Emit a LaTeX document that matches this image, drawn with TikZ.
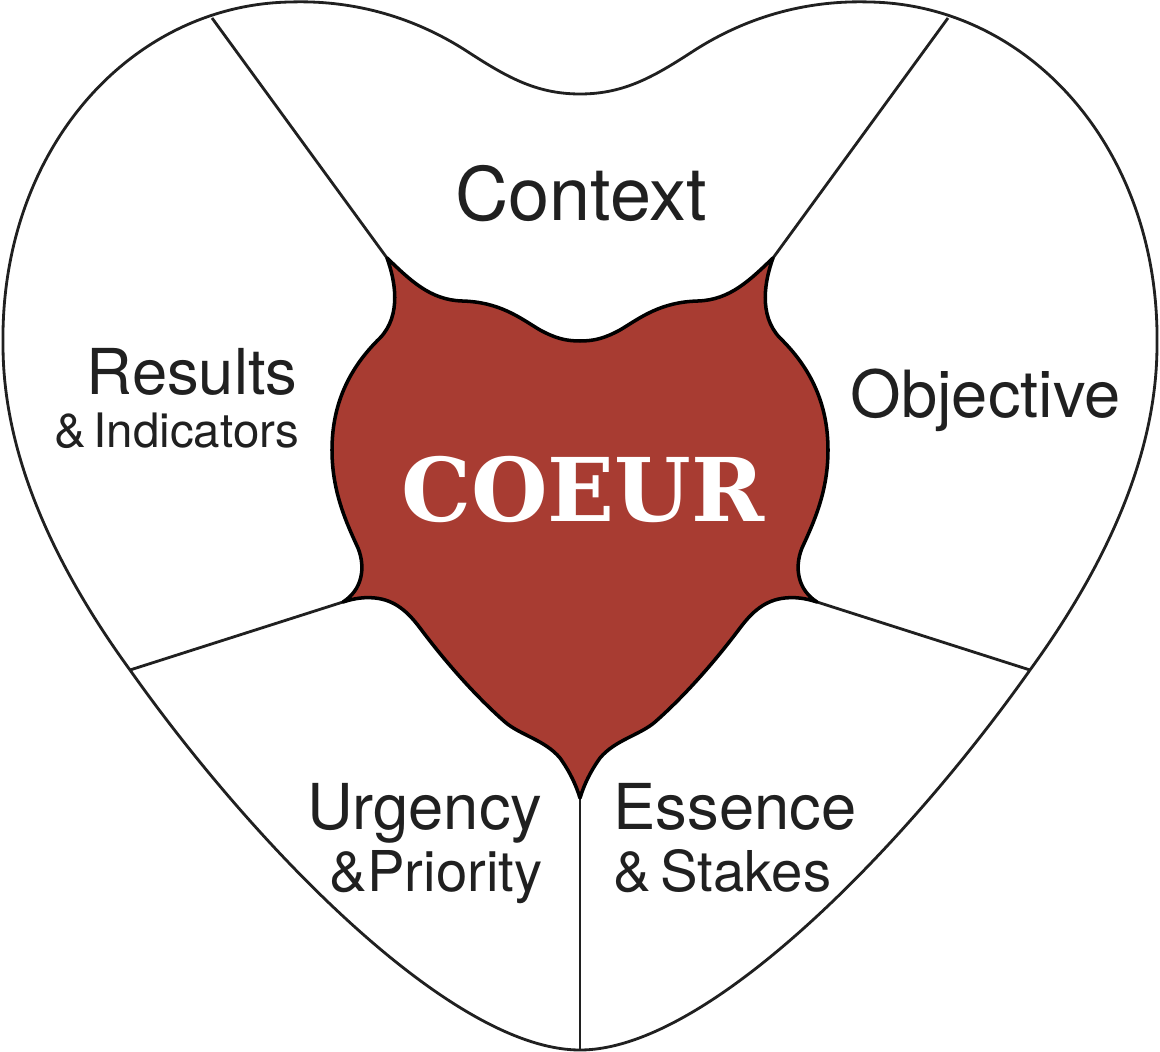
\documentclass[tikz,border=0pt]{standalone}
\usepackage{fontspec}
\setmainfont{TeX Gyre Heros}
\newfontfamily\coeurfont{DejaVu Serif}
\definecolor{coeurred}{HTML}{A83C32}
\definecolor{inkgray}{HTML}{202020}

\begin{document}
\begin{tikzpicture}[x=0.01cm,y=-0.01cm,line join=round,
    outline/.style={draw=inkgray,line width=0.8pt},
    inner/.style={draw=black,line width=1pt,fill=coeurred},
    word/.style={text=inkgray,inner sep=0pt,font=\fontsize{18}{21}\selectfont},
    subword/.style={text=inkgray,inner sep=0pt,font=\fontsize{16}{19}\selectfont}]
    \useasboundingbox (0,0) rectangle (1160,1052);
    % outer heart
    \draw[outline,fill=white] (580,94) .. controls (535,94) and (505,76) .. (465,50)
        .. controls (410,15) and (350,0) .. (290,2)
        .. controls (130,5) and (0,150) .. (3,345)
        .. controls (3,450) and (50,560) .. (130,670)
        .. controls (250,840) and (450,1050) .. (580,1050)
        .. controls (710,1050) and (910,840) .. (1030,670)
        .. controls (1110,560) and (1157,450) .. (1157,345)
        .. controls (1160,150) and (1030,5) .. (870,2)
        .. controls (810,0) and (750,15) .. (695,50)
        .. controls (655,76) and (625,94) .. (580,94) -- cycle;
    % end points of the dividers
    \coordinate (tlo) at (212,18);
    \coordinate (tli) at (387,258);
    \coordinate (tro) at (948,18);
    \coordinate (tri) at (773,258);
    \coordinate (lo) at (130,670);
    \coordinate (li) at (343,602);
    \coordinate (ro) at (1030,670);
    \coordinate (ri) at (817,602);
    \coordinate (bo) at (580,1050);
    \coordinate (bi) at (580,798);
    \foreach \a/\b in {tlo/tli,tro/tri,lo/li,ro/ri,bo/bi}
    \draw[outline] (\a) -- (\b);
    % inner heart
    \draw[inner] (tli) .. controls (410,280) and (430,300) .. (462,301)
        .. controls (500,302) and (520,318) .. (540,330)
        .. controls (555,338) and (565,341) .. (580,341)
        .. controls (595,341) and (605,338) .. (620,330)
        .. controls (640,318) and (660,302) .. (698,301)
        .. controls (730,300) and (750,280) .. (tri)
        .. controls (765,280) and (758,315) .. (780,338)
        .. controls (815,372) and (828,410) .. (828,450)
        .. controls (828,490) and (815,520) .. (802,548)
        .. controls (794,568) and (798,590) .. (ri)
        .. controls (805,598) and (795,597) .. (785,598)
        .. controls (765,600) and (752,612) .. (740,628)
        .. controls (710,668) and (680,700) .. (655,722)
        .. controls (640,735) and (615,740) .. (600,758)
        .. controls (590,772) and (584,785) .. (bi)
        .. controls (576,785) and (570,772) .. (560,758)
        .. controls (545,740) and (520,735) .. (505,722)
        .. controls (480,700) and (450,668) .. (420,628)
        .. controls (408,612) and (395,600) .. (375,598)
        .. controls (365,597) and (355,598) .. (li)
        .. controls (362,590) and (366,568) .. (358,548)
        .. controls (345,520) and (332,490) .. (332,450)
        .. controls (332,410) and (345,372) .. (380,338)
        .. controls (402,315) and (395,280) .. (tli) -- cycle;
    % labels
    \node[word,font=\fontsize{21}{24}\selectfont,anchor=base] (context) at (581,221) {Context};
    \node[word,anchor=base east] (results) at (298,395) {Results};
    \node[word,font=\fontsize{13.5}{16}\selectfont,anchor=base east] (indicators) at (300,448) {\&\,Indicators};
    \node[word,font=\fontsize{18.5}{21}\selectfont,anchor=base west] (objective) at (850,418) {Objective};
    \node[word,anchor=base east] (urgency) at (543,830) {Urgency};
    \node[subword,anchor=base east] (priority) at (543,892) {\&Priority};
    \node[word,anchor=base west] (essence) at (613,830) {Essence};
    \node[subword,anchor=base west] (stakes) at (613,891) {\&\,Stakes};
    \node[text=white,inner sep=0pt,font=\coeurfont\bfseries\fontsize{25}{28}\selectfont,anchor=base] (coeur) at (583,522) {COEUR};
\end{tikzpicture}
\end{document}
